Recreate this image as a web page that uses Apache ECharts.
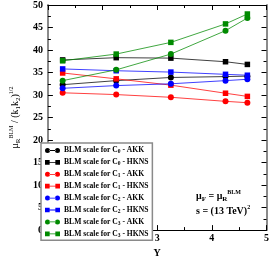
<!DOCTYPE html>
<html><head><meta charset="utf-8">
<script src="https://cdn.jsdelivr.net/npm/echarts@6/dist/echarts.min.js"></script>
<style>html,body{margin:0;padding:0;background:#fff}#c{width:272px;height:263px}</style>
</head><body><div id="c"></div>
<script>
const Yvals = [1.27, 2.25, 3.25, 4.25, 4.65];
const c0AKK  = [32.3, 33.2, 33.9, 34.1, 34.2];
const c0HKNS = [37.8, 38.3, 38.2, 37.4, 36.8];
const c1AKK  = [30.5, 30.1, 29.5, 28.6, 28.3];
const c1HKNS = [34.9, 33.6, 32.2, 30.4, 29.7];
const c2AKK  = [31.5, 32.1, 32.5, 33.2, 33.5];
const c2HKNS = [35.8, 35.4, 35.1, 34.6, 34.4];
const c3AKK  = [33.2, 35.6, 39.1, 44.3, 47.1];
const c3HKNS = [37.6, 39.1, 41.7, 45.8, 48.0];

const seriesDefs = [
  {name:'BLM scale for C{s|0} - AKK', data:c0AKK, color:'#000000', sym:'circle'},
  {name:'BLM scale for C{s|0} - HKNS', data:c0HKNS, color:'#000000', sym:'rect'},
  {name:'BLM scale for C{s|1} - AKK', data:c1AKK, color:'#ff0000', sym:'circle'},
  {name:'BLM scale for C{s|1} - HKNS', data:c1HKNS, color:'#ff0000', sym:'rect'},
  {name:'BLM scale for C{s|2} - AKK', data:c2AKK, color:'#0000ff', sym:'circle'},
  {name:'BLM scale for C{s|2} - HKNS', data:c2HKNS, color:'#0000ff', sym:'rect'},
  {name:'BLM scale for C{s|3} - AKK', data:c3AKK, color:'#008a00', sym:'circle'},
  {name:'BLM scale for C{s|3} - HKNS', data:c3HKNS, color:'#008a00', sym:'rect'}
];
const circIcon = 'path://M0,5a5,5 0 1,0 10,0a5,5 0 1,0 -10,0ZM9,4.2L21,4.2L21,5.8L9,5.8ZM20,5a5,5 0 1,0 10,0a5,5 0 1,0 -10,0Z';
const rectIcon = 'path://M0.5,0.5L9.5,0.5L9.5,9.5L0.5,9.5ZM9,4.2L21,4.2L21,5.8L9,5.8ZM20.5,0.5L29.5,0.5L29.5,9.5L20.5,9.5Z';

const FONT = '"Liberation Serif","DejaVu Serif",serif';
const chart = echarts.init(document.getElementById('c'), null, {renderer:'canvas'});
const tickAxisY = () => ({
  type:'value', min:0, max:50, interval:5,
  axisLine:{show:true, lineStyle:{color:'#8a8a8a', width:2}},
  axisTick:{show:true, inside:true, length:5, lineStyle:{color:'#000', width:1}},
  minorTick:{show:true, splitNumber:2, length:3, lineStyle:{color:'#000', width:1}},
  splitLine:{show:false}, minorSplitLine:{show:false}
});
const tickAxisX = () => ({
  type:'value', min:1, max:5, interval:1,
  axisLine:{show:true, onZero:false, lineStyle:{color:'#000', width:1}},
  axisTick:{show:true, inside:true, length:5, lineStyle:{color:'#000', width:1}},
  minorTick:{show:true, splitNumber:2, length:3, lineStyle:{color:'#000', width:1}},
  splitLine:{show:false}, minorSplitLine:{show:false}
});
const yL = tickAxisY();
Object.assign(yL, {
  position:'left',
  axisLabel:{show:true, margin:5, fontFamily:FONT, fontWeight:'bold', fontSize:10, color:'#000'},
  name:'μ{s|R}{p|BLM} / (k{s|1}k{s|2}){p|1/2}',
  nameLocation:'middle', nameGap:19, nameRotate:90,
  nameTextStyle:{fontFamily:FONT, fontSize:10, color:'#000', lineHeight:14,
    rich:{s:{fontSize:7, fontFamily:FONT, verticalAlign:'bottom', lineHeight:14, padding:[4,0,0,0]}, p:{fontSize:6, fontFamily:FONT, verticalAlign:'top', lineHeight:14}}}
});
const yR = tickAxisY();
Object.assign(yR, {position:'right', axisLabel:{show:false}});
const xB = tickAxisX();
Object.assign(xB, {position:'bottom',
  axisLabel:{show:true, margin:3, fontFamily:FONT, fontWeight:'bold', fontSize:10, color:'#000'},
  name:'Y', nameLocation:'middle', nameGap:11,
  nameTextStyle:{fontFamily:FONT, fontWeight:'bold', fontSize:10, color:'#000'}
});
const xT = tickAxisX();
Object.assign(xT, {position:'top', axisLabel:{show:false}});

chart.setOption({
  animation:false,
  grid:{left:31, right:4, top:5, bottom:21, containLabel:false},
  xAxis:[xB, xT],
  yAxis:[yL, yR],
  legend:{
    orient:'vertical', left:41, top:143, itemWidth:15, itemHeight:5, itemGap:2.9,
    backgroundColor:'#fff', borderColor:'#8a8a8a', borderWidth:1.5, borderRadius:0,
    padding:[3,4,2,4],
    data: seriesDefs.map(d => ({name:d.name, icon: d.sym==='circle'?circIcon:rectIcon})),
    formatter: n => n,
    textStyle:{fontFamily:FONT, fontWeight:'bold', fontSize:7.6, color:'#000', lineHeight:9, padding:[0,0,0,-1],
      rich:{s:{fontFamily:FONT, fontWeight:'bold', fontSize:5.5, verticalAlign:'bottom', lineHeight:9, padding:[2,0,0,0]}}}
  },
  graphic:[
    {type:'text', left:196, top:189, style:{text:'μ{s|F} = μ{s|R}{p|BLM}', font:'bold 10px '+FONT, fill:'#000',
      rich:{s:{fontSize:7, fontFamily:FONT, fontWeight:'bold', verticalAlign:'bottom', lineHeight:14}, p:{fontSize:6, fontFamily:FONT, fontWeight:'bold', verticalAlign:'top', lineHeight:14}}, lineHeight:14}},
    {type:'text', left:196, top:204, style:{text:'s = (13 TeV){p|2}', font:'bold 10px '+FONT, fill:'#000', lineHeight:14,
      rich:{p:{fontSize:6, fontFamily:FONT, fontWeight:'bold', verticalAlign:'top', lineHeight:14}}}}
  ],
  series: seriesDefs.map(d => ({
    name:d.name, type:'line', xAxisIndex:0, yAxisIndex:0,
    data: Yvals.map((x,i)=>[x, d.data[i]]),
    symbol:d.sym, symbolSize: d.sym==='circle'?6:5.5,
    itemStyle:{color:d.color},
    lineStyle:{color:d.color, width:1, opacity:0.75}
  }))
});
</script></body></html>
